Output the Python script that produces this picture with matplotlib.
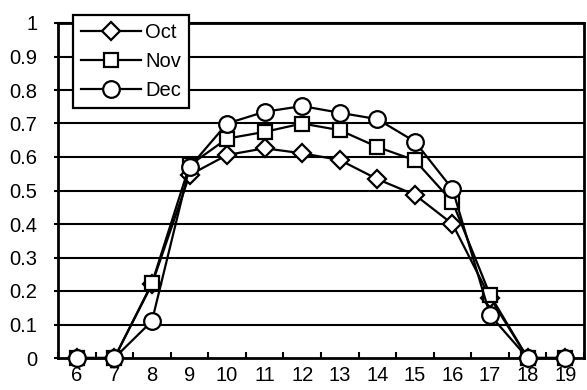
import numpy as np
import matplotlib
matplotlib.use('Agg')
import matplotlib.pyplot as plt

plt.rcParams['font.family'] = ['Liberation Sans', 'DejaVu Sans']

# hours of the day
hours = ['6', '7', '8', '9', '10', '11', '12', '13', '14', '15', '16', '17', '18', '19']

# values
oct_vals = [0, 0, 0.22, 0.546, 0.606, 0.626, 0.611, 0.591, 0.534, 0.487, 0.40, 0.18, 0, 0]
nov_vals = [0, 0, 0.223, 0.575, 0.655, 0.675, 0.70, 0.68, 0.63, 0.59, 0.466, 0.188, 0, 0]
dec_vals = [0, 0, 0.11, 0.569, 0.70, 0.735, 0.752, 0.732, 0.713, 0.646, 0.504, 0.128, 0, 0]

x = np.arange(len(hours))

fig = plt.figure(figsize=(5.87, 3.9), dpi=100)
ax = fig.add_axes([58/587, 32/390, 526/587, 335/390])

# horizontal grid lines
for v in np.arange(0.1, 1.01, 0.1):
    ax.axhline(v, color='black', lw=1.5, zorder=1)

ax.plot(x, oct_vals, color='black', lw=1.6, marker='D', ms=9, mfc='white',
        mec='black', mew=1.6, label='Oct', zorder=3)
ax.plot(x, nov_vals, color='black', lw=1.6, marker='s', ms=10, mfc='white',
        mec='black', mew=1.6, label='Nov', zorder=4)
ax.plot(x, dec_vals, color='black', lw=1.6, marker='o', ms=12, mfc='white',
        mec='black', mew=1.6, label='Dec', zorder=5)

ax.set_xlim(-0.5, len(hours) - 0.5)
ax.set_ylim(0, 1)
ax.set_xticks(x)
ax.set_xticklabels(hours, fontsize=14.5)
ax.set_xticks(np.arange(-0.5, len(hours), 1), minor=True)
ax.tick_params(axis='x', which='major', length=0, pad=6)
ax.tick_params(axis='x', which='minor', direction='in', length=4, width=1.5)

ax.set_yticks(np.arange(0, 1.01, 0.1))
ax.set_yticklabels(['0', '0.1', '0.2', '0.3', '0.4', '0.5', '0.6', '0.7', '0.8', '0.9', '1'],
                   fontsize=14.5)
ax.tick_params(axis='y', direction='out', length=3, width=1.5, pad=12)

for s in ax.spines.values():
    s.set_linewidth(2)
    s.set_color('black')

for line in ax.get_lines():
    line.set_clip_on(False)

leg = ax.legend(loc='upper left', bbox_to_anchor=(15/526, 1 + 8/335), fontsize=14.5,
                frameon=True, fancybox=False, framealpha=1, edgecolor='black',
                handlelength=3.0, handletextpad=0.2, labelspacing=0.5,
                borderpad=0.4, borderaxespad=0)
leg.get_frame().set_linewidth(1.6)
leg.set_zorder(10)

plt.savefig('out.png', dpi=100)
